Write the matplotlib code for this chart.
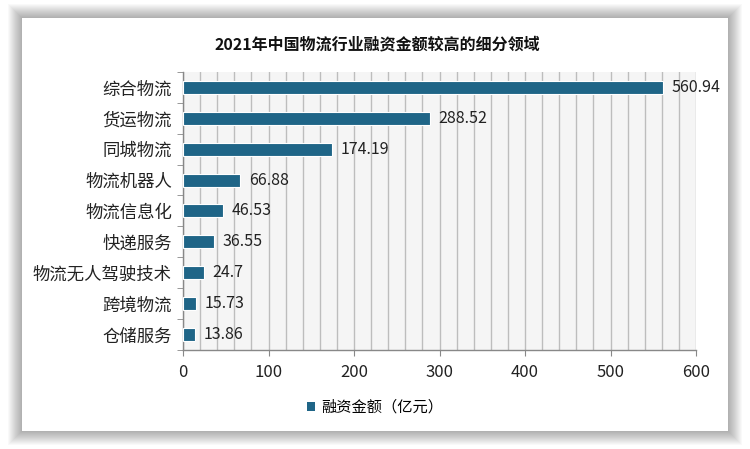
import matplotlib
matplotlib.use("Agg")
import matplotlib.pyplot as plt
from matplotlib.patches import Rectangle, Patch
from matplotlib.ticker import MultipleLocator
import numpy as np

plt.rcParams['font.family'] = ['Noto Sans CJK SC', 'DejaVu Sans']

# 数据（从上到下）
categories = ["综合物流", "货运物流", "同城物流", "物流机器人", "物流信息化",
              "快递服务", "物流无人驾驶技术", "跨境物流", "仓储服务"]
values = [560.94, 288.52, 174.19, 66.88, 46.53, 36.55, 24.7, 15.73, 13.86]
title = "2021年中国物流行业融资金额较高的细分领域"
legend_label = "融资金额（亿元）"

bar_color = "#1f6587"

W, H = 750, 449
fig = plt.figure(figsize=(7.5, 4.49), dpi=100)
fig.patch.set_facecolor("white")

# 外框 + 模糊阴影（像素单位）
bx0, by0, bx1, by1 = 22, 18, 728, 431
for k in range(14, 0, -1):
    fig.patches.append(Rectangle(((bx0 - k) / W, 1 - (by1 + k) / H),
                                 (bx1 - bx0 + 2 * k) / W, (by1 - by0 + 2 * k) / H,
                                 transform=fig.transFigure, facecolor="black", alpha=0.025,
                                 edgecolor="none", zorder=0))
fig.patches.append(Rectangle((bx0 / W, 1 - by1 / H), (bx1 - bx0) / W, (by1 - by0) / H,
                             transform=fig.transFigure, facecolor="white", edgecolor="none", zorder=1))

ax = fig.add_axes([0.244, 0.2205, 0.684, 0.6195])
ax.set_zorder(2)
ax.set_facecolor("#f5f5f5")

y = np.arange(len(categories))
ax.barh(y, values, height=0.42, color=bar_color, edgecolor="white", linewidth=0.8, zorder=3)
for yi, v in zip(y, values):
    ax.text(v + 10, yi, f"{v:g}", va="center", ha="left", fontsize=11.5, color="#222222", zorder=4)

ax.set_xlim(0, 600)
ax.set_ylim(len(categories) - 0.5, -0.5)
ax.xaxis.set_major_locator(MultipleLocator(100))
ax.xaxis.set_minor_locator(MultipleLocator(20))
ax.grid(axis="x", which="both", color="#bdbdbd", linewidth=1.0, zorder=1)
ax.set_axisbelow(True)

ax.set_yticks(y)
ax.set_yticklabels(categories, fontsize=12.5, color="#222222")
ax.tick_params(axis="y", which="major", length=0, pad=8)
ax.set_yticks(np.arange(-0.5, len(categories), 1), minor=True)
ax.tick_params(axis="y", which="minor", length=4, color="#888888", direction="out")
ax.tick_params(axis="x", which="major", length=4, color="#888888", labelsize=12, labelcolor="#222222", pad=6)
ax.tick_params(axis="x", which="minor", length=0)

for s in ["top", "right"]:
    ax.spines[s].set_visible(False)
for s in ["left", "bottom"]:
    ax.spines[s].set_color("#888888")
    ax.spines[s].set_linewidth(1.0)

fig.text(0.503, 0.9, title, ha="center", va="center", fontsize=11.5, fontweight="bold", color="#111111")

fig.legend(handles=[Patch(facecolor=bar_color, label=legend_label)], loc="center",
           bbox_to_anchor=(0.5, 0.093), frameon=False, fontsize=11, handlelength=0.5,
           handleheight=0.5, handletextpad=0.4)

fig.savefig("out.png", dpi=100)
